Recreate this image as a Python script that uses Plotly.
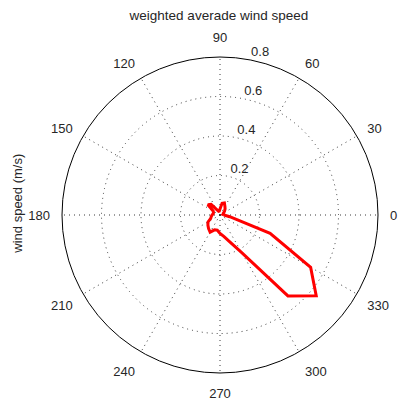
import plotly.graph_objects as go

# Direction (degrees) and weighted average wind speed (m/s)
directions = [0, 10, 20, 30, 40, 50, 60, 70, 80, 90, 100, 110, 120, 130, 140, 150,
              160, 170, 180, 190, 200, 210, 220, 230, 240, 250, 260, 270, 280, 290,
              300, 310, 320, 330, 340, 350]
speeds = [0.02, 0.015, 0.02, 0.02, 0.03, 0.04, 0.05, 0.065, 0.06, 0.03, 0.02, 0.02,
          0.03, 0.07, 0.08, 0.04, 0.035, 0.035, 0.04, 0.045, 0.05, 0.07, 0.08, 0.09,
          0.10, 0.08, 0.078, 0.093, 0.11, 0.145, 0.22, 0.535, 0.636, 0.53, 0.27, 0.05]

radial_ticks = [0.2, 0.4, 0.6, 0.8]
radial_labels = ["0.2", "0.4", "0.6", "0.8"]
angle_ticks = [0, 30, 60, 90, 120, 150, 180, 210, 240, 270, 300, 330]
angle_labels = [str(a) for a in angle_ticks]

FONT = "Liberation Sans, Arial, sans-serif"
TXT = "#262626"
GRID = "#3a3a3a"

fig = go.Figure()
fig.add_trace(go.Scatterpolar(
    r=speeds + speeds[:1], theta=directions + directions[:1],
    mode="lines", line=dict(color="#ff0000", width=3),
    showlegend=False, hoverinfo="skip"))
fig.add_trace(go.Scatterpolar(
    r=radial_ticks, theta=[80] * len(radial_ticks), mode="text",
    text=["\u00a0" + t for t in radial_labels],
    textposition="top right",
    textfont=dict(family=FONT, size=13, color=TXT),
    cliponaxis=False, showlegend=False, hoverinfo="skip"))

fig.update_layout(
    width=398, height=403,
    margin=dict(l=62, r=20, t=57, b=30),
    paper_bgcolor="white", plot_bgcolor="white",
    title=dict(text="weighted averade wind speed", x=0.55, xanchor="center",
               y=0.962, yanchor="middle",
               font=dict(family=FONT, size=13.5, color=TXT)),
    polar=dict(
        bgcolor="white",
        domain=dict(x=[0, 1], y=[0, 1]),
        radialaxis=dict(range=[0, 0.8], tickvals=radial_ticks, showticklabels=False,
                        ticks="", showline=False, gridcolor=GRID,
                        griddash="1px,4px", gridwidth=1),
        angularaxis=dict(rotation=0, direction="counterclockwise",
                         tickvals=angle_ticks, ticktext=angle_labels,
                         ticks="outside", ticklen=9, tickcolor="rgba(0,0,0,0)",
                         showline=True, linecolor="black", linewidth=1,
                         gridcolor=GRID, griddash="1px,4px", gridwidth=1,
                         tickfont=dict(family=FONT, size=13, color=TXT)),
    ),
    annotations=[dict(text="wind speed (m/s)", textangle=-90, xref="paper",
                      yref="paper", x=-0.14, y=0.535, showarrow=False,
                      xanchor="center", yanchor="middle",
                      font=dict(family=FONT, size=13, color=TXT))],
)
fig.write_html("out.html")
